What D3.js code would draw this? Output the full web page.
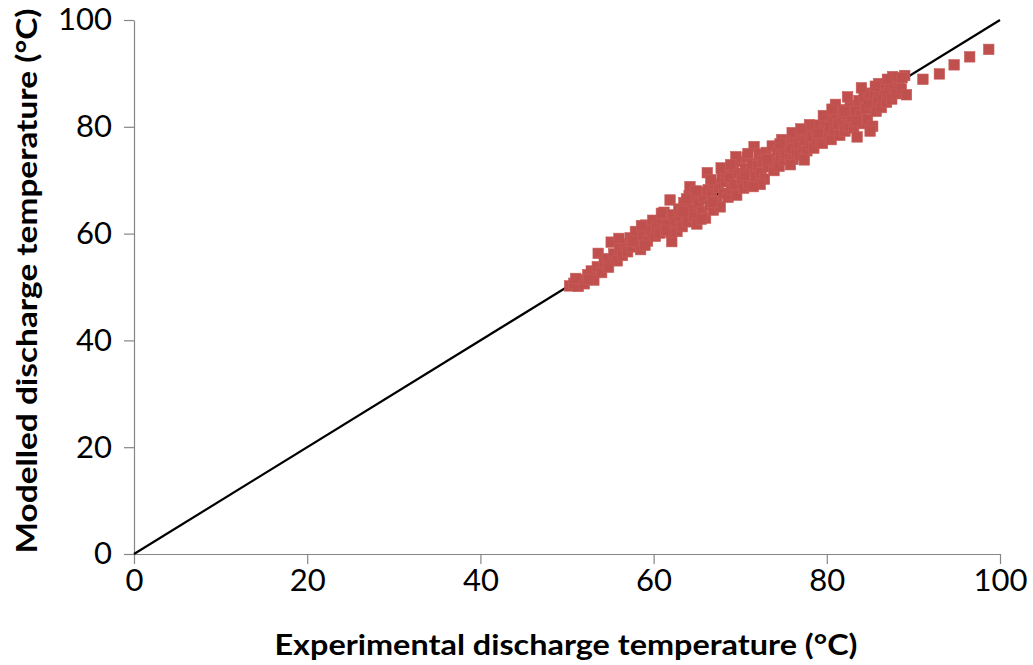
<!DOCTYPE html>
<html>
<head>
<meta charset="utf-8">
<script src="https://cdn.jsdelivr.net/npm/d3@7"></script>
<style>
  html, body { margin: 0; padding: 0; background: #ffffff; }
  svg { display: block; }
</style>
</head>
<body>
<svg id="chart" width="1033" height="665"></svg>
<script>
// ---- data ----
const xTicks = [0, 20, 40, 60, 80, 100];
const yTicks = [0, 20, 40, 60, 80, 100];
const xTitle = "Experimental discharge temperature (°C)";
const yTitle = "Modelled discharge temperature (°C)";
const refLineX = [0, 100];
const refLineY = [0, 100];
const expT = [
  50.3, 50.8, 51.3, 51.6, 52.0, 52.4, 52.8, 53.1, 53.5, 53.6,
  54.0, 54.3, 54.7, 55.1, 55.4, 55.8, 56.1, 56.4, 56.7, 57.0,
  57.3, 57.5, 57.9, 58.2, 58.5, 58.8, 59.1, 59.3, 59.6, 59.9,
  60.2, 60.4, 60.7, 61.0, 61.2, 61.5, 61.9, 62.1, 62.2, 62.5,
  62.7, 62.9, 63.1, 63.3, 63.5, 63.7, 63.9, 64.1, 64.2, 64.4,
  64.6, 64.8, 65.0, 65.2, 65.4, 65.6, 65.8, 66.0, 66.2, 66.3,
  66.5, 66.7, 66.9, 67.1, 67.3, 67.5, 67.7, 67.9, 68.1, 68.3,
  68.4, 68.6, 68.8, 69.0, 69.2, 69.4, 69.6, 69.8, 70.0, 70.2,
  70.4, 70.6, 70.8, 71.0, 71.2, 71.4, 71.6, 71.8, 72.0, 72.2,
  72.4, 72.6, 72.8, 73.0, 73.2, 73.4, 73.7, 73.9, 74.1, 74.3,
  74.5, 74.7, 74.9, 75.1, 75.3, 75.5, 75.7, 75.9, 76.1, 76.3,
  76.5, 76.7, 76.9, 77.1, 77.3, 77.5, 77.7, 77.9, 78.1, 78.3,
  78.5, 78.7, 78.9, 79.1, 79.3, 79.5, 79.7, 79.9, 80.1, 80.3,
  80.5, 80.7, 80.9, 81.1, 81.3, 81.5, 81.7, 81.9, 82.1, 82.3,
  82.5, 82.7, 82.9, 83.1, 83.3, 83.5, 83.7, 83.9, 84.1, 84.3,
  84.5, 84.7, 84.9, 85.1, 85.3, 85.5, 85.7, 85.9, 86.1, 86.3,
  86.5, 86.7, 86.9, 87.1, 87.3, 87.5, 87.8, 88.0, 88.3, 88.6,
  89.0, 89.2, 91.1, 93.0, 94.7, 96.5, 98.7,
  62.0, 63.8, 64.9, 66.6, 67.8, 69.5, 70.9, 74.8, 76.0, 78.0,
  79.6, 81.0, 82.4, 84.0, 86.0, 87.6, 60.9, 58.6, 56.0, 77.4,
  72.3, 85.0,
  51.0, 52.5, 54.8, 57.6, 59.0, 61.4, 63.4, 65.5, 66.8, 68.9,
  70.5, 71.5, 73.1, 74.6, 75.8, 77.0, 79.0, 80.6, 82.0, 83.4,
  85.6, 87.0, 88.7
];
const modT = [
  50.2, 50.7, 50.1, 51.4, 50.6, 52.3, 53.0, 51.3, 53.8, 56.3,
  52.7, 54.6, 55.3, 58.4, 56.2, 54.9, 57.3, 55.9, 58.1, 56.6,
  59.2, 57.5, 60.4, 58.3, 57.0, 59.7, 61.6, 58.6, 60.7, 62.5,
  59.5, 61.2, 60.1, 62.8, 64.0, 61.7, 66.3, 58.5, 63.5, 62.1,
  60.4, 64.6, 62.9, 61.3, 65.8, 63.6, 62.2, 67.1, 68.8, 64.9,
  63.2, 66.4, 61.8, 65.5, 67.8, 64.1, 66.9, 62.9, 71.4, 68.2,
  65.3, 67.4, 64.4, 69.3, 66.2, 68.6, 65.0, 70.4, 67.5, 69.7,
  71.3, 66.8, 70.6, 68.3, 72.4, 69.2, 67.2, 71.3, 73.5, 70.1,
  68.5, 72.2, 74.3, 69.4, 71.5, 73.1, 76.3, 70.6, 72.7, 74.9,
  71.4, 73.6, 70.2, 75.2, 72.5, 74.0, 76.4, 71.8, 73.3, 75.4,
  72.6, 74.5, 76.1, 73.8, 75.0, 77.2, 74.2, 76.0, 73.9, 77.8,
  75.2, 76.9, 74.7, 78.3, 76.2, 77.4, 75.5, 79.0, 76.8, 78.2,
  76.0, 79.6, 77.5, 80.3, 78.1, 76.9, 79.4, 81.2, 78.5, 80.0,
  77.6, 81.8, 79.3, 82.6, 80.5, 78.4, 83.2, 81.0, 79.2, 82.3,
  80.1, 84.0, 81.6, 79.8, 83.0, 78.1, 84.9, 82.0, 80.6, 85.6,
  83.4, 81.4, 86.3, 84.2, 80.1, 86.0, 82.9, 84.8, 86.7, 83.6,
  85.3, 87.1, 84.6, 86.0, 88.3, 85.2, 87.5, 86.2, 88.6, 87.1,
  89.6, 86.0, 88.9, 89.9, 91.6, 93.1, 94.5,
  60.2, 66.5, 68.0, 70.1, 72.3, 74.4, 75.0, 77.6, 78.9, 80.4,
  82.1, 84.2, 85.6, 87.3, 88.1, 89.4, 63.8, 61.5, 59.1, 73.8,
  69.2, 79.2,
  51.6, 51.4, 53.7, 58.6, 57.8, 60.6, 64.1, 62.7, 65.9, 72.9,
  70.9, 68.8, 73.8, 76.8, 72.9, 79.6, 78.8, 83.3, 82.9, 81.1,
  87.6, 88.9, 89.2
];

// ---- drawing ----
const svg = d3.select("#chart");
const x = d3.scaleLinear().domain([0, 100]).range([134, 1000]);
const y = d3.scaleLinear().domain([0, 100]).range([554, 20]);
const axisColor = "#868686";
const font = "Lato, 'Liberation Sans', sans-serif";

const gx = svg.append("g")
  .attr("transform", `translate(0,${y(0)})`)
  .call(d3.axisBottom(x).tickValues(xTicks).tickSize(10).tickSizeOuter(0).tickPadding(5));
const gy = svg.append("g")
  .attr("transform", `translate(${x(0)},0)`)
  .call(d3.axisLeft(y).tickValues(yTicks).tickSize(10).tickSizeOuter(0).tickPadding(12));

[gx, gy].forEach(g => {
  g.select(".domain").attr("stroke", axisColor).attr("stroke-width", 1.2);
  g.selectAll(".tick line").attr("stroke", axisColor).attr("stroke-width", 1.2);
  g.selectAll(".tick text")
    .attr("fill", "#000")
    .style("font-family", font)
    .style("font-size", "31px");
});

// reference line
svg.append("line")
  .attr("x1", x(refLineX[0])).attr("y1", y(refLineY[0]))
  .attr("x2", x(refLineX[1])).attr("y2", y(refLineY[1]))
  .attr("stroke", "#000").attr("stroke-width", 2.2);

// points
const pts = expT.map((v, i) => ({ x: v, y: modT[i] }));
const s = 10.5;
svg.append("g").selectAll("rect").data(pts).join("rect")
  .attr("x", d => x(d.x) - s / 2)
  .attr("y", d => y(d.y) - s / 2)
  .attr("width", s).attr("height", s)
  .attr("fill", "#C0504D")
  .attr("stroke", "#C85C59")
  .attr("stroke-width", 0.6);

// titles
svg.append("text")
  .attr("x", 566).attr("y", 655)
  .attr("text-anchor", "middle")
  .attr("textLength", 583).attr("lengthAdjust", "spacingAndGlyphs")
  .style("font-family", font).style("font-weight", "bold").style("font-size", "29px")
  .text(xTitle);

svg.append("text")
  .attr("transform", `translate(37,281) rotate(-90)`)
  .attr("text-anchor", "middle")
  .attr("textLength", 545).attr("lengthAdjust", "spacingAndGlyphs")
  .style("font-family", font).style("font-weight", "bold").style("font-size", "29px")
  .text(yTitle);
</script>
</body>
</html>
